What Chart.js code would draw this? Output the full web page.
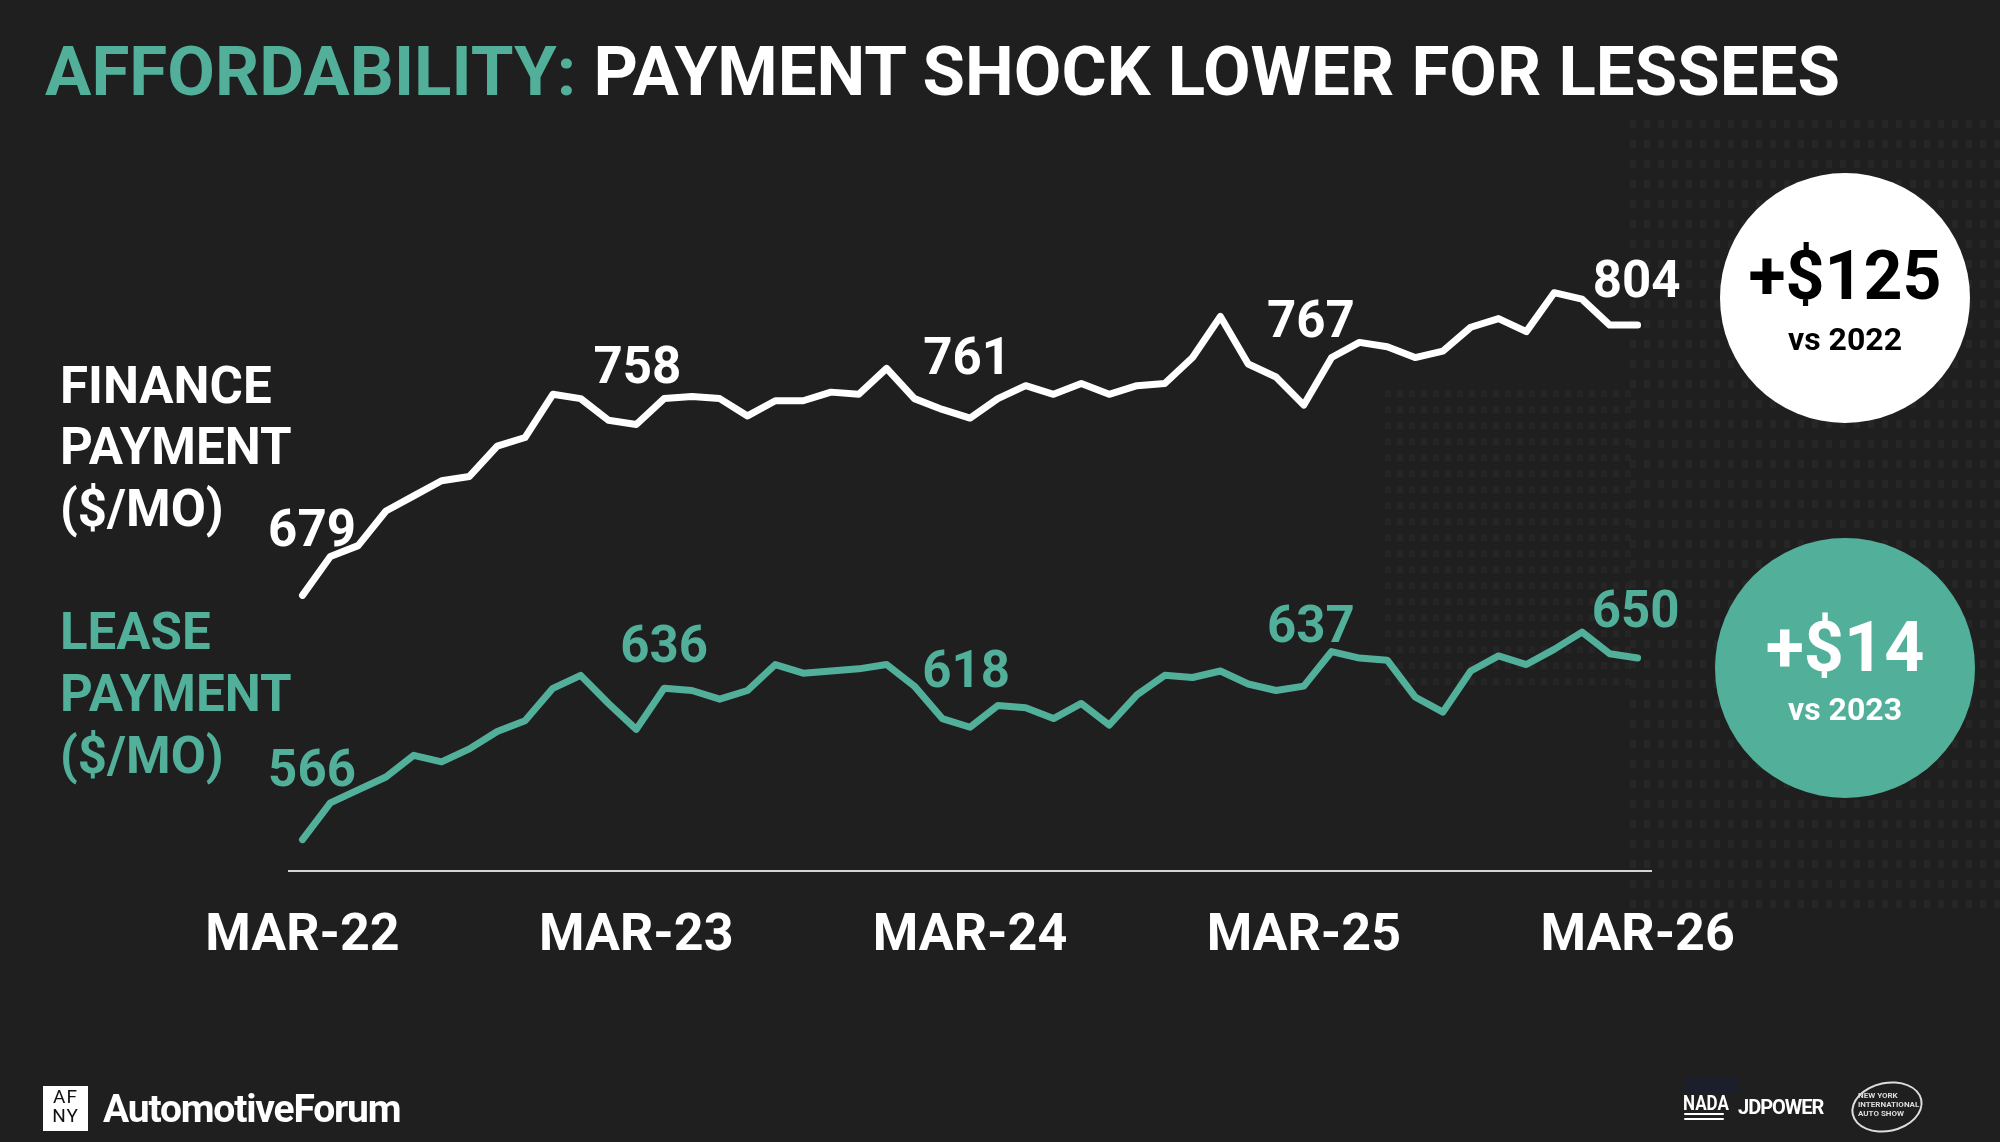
<!DOCTYPE html>
<html>
<head>
<meta charset="utf-8">
<script src="https://cdn.jsdelivr.net/npm/chart.js@4.4.1/dist/chart.umd.min.js"></script>
<style>
  html, body { margin:0; padding:0; background:#1f1f1f; }
  body { width:2000px; height:1142px; position:relative; overflow:hidden; font-family: Roboto, "Noto Sans", sans-serif; }
  .abs { position:absolute; }
  #bg1 { left:1630px; top:120px; width:370px; height:800px; opacity:0.03;
    background:
      repeating-linear-gradient(90deg, transparent 0 6px, #1f1f1f 6px 14px),
      repeating-linear-gradient(180deg, #fff 0 8px, transparent 8px 20px); }
  #bg2 { left:1385px; top:390px; width:250px; height:300px; opacity:0.022;
    background:
      repeating-linear-gradient(90deg, transparent 0 6px, #1f1f1f 6px 12px),
      repeating-linear-gradient(180deg, #fff 0 7px, transparent 7px 16px); }
  #title { left:45px; top:37.8px; font-size:68px; font-weight:700; line-height:68px; white-space:nowrap; transform-origin:0 0; color:#fff; }
  #title .hl { color:#52b09a; }
  .side { left:60px; font-size:51px; font-weight:700; line-height:61.7px; white-space:nowrap; }
  #chartWrap { left:0; top:0; width:2000px; height:1142px; }
  .circle { border-radius:50%; }
  .ctext { left:1695px; width:300px; text-align:center; font-weight:700; white-space:nowrap; }
</style>
</head>
<body>
<div id="bg1" class="abs"></div>
<div id="bg2" class="abs"></div>

<div id="title" class="abs"><span class="hl">AFFORDABILITY:</span> PAYMENT SHOCK LOWER FOR LESSEES</div>

<div class="abs side" style="top:354.7px;color:#ffffff;">FINANCE<br>PAYMENT<br>($/MO)</div>
<div class="abs side" style="top:601.3px;color:#52b09a;">LEASE<br>PAYMENT<br>($/MO)</div>

<div id="chartWrap" class="abs"><canvas id="c" width="2000" height="1142"></canvas></div>

<div class="abs circle" style="left:1720px;top:173px;width:250px;height:250px;background:#ffffff;"></div>
<div class="abs ctext" style="top:241.7px;font-size:68px;line-height:68px;color:#000;">+$125</div>
<div class="abs ctext" style="top:322.5px;font-size:32px;line-height:32px;color:#000;">vs 2022</div>

<div class="abs circle" style="left:1715px;top:538px;width:260px;height:260px;background:#52b09a;"></div>
<div class="abs ctext" style="top:612px;font-size:70px;line-height:70px;color:#fff;">+$14</div>
<div class="abs ctext" style="top:692.5px;font-size:32px;line-height:32px;color:#fff;">vs 2023</div>

<!-- footer -->
<div class="abs" style="left:43px;top:1086px;width:45px;height:45px;background:#fff;"></div>
<div class="abs" style="left:43px;top:1087px;width:45px;text-align:center;font-size:19px;line-height:19px;color:#111;letter-spacing:1px;">AF<br>NY</div>
<div class="abs" style="left:103px;top:1090px;font-size:39px;line-height:39px;font-weight:700;color:#fff;letter-spacing:-1.2px;white-space:nowrap;">AutomotiveForum</div>

<div class="abs" style="left:1685px;top:1078px;width:53px;height:15px;background:#1b1e2b;"></div>
<div class="abs" style="left:1683px;top:1093px;font-size:20px;line-height:20px;font-weight:700;color:#fff;transform:scaleX(0.85);transform-origin:0 0;">NADA</div>
<div class="abs" style="left:1684px;top:1113px;width:40px;height:2px;background:#fff;border-radius:2px;"></div>
<div class="abs" style="left:1684px;top:1118px;width:40px;height:2px;background:#fff;border-radius:2px;"></div>
<div class="abs" style="left:1738px;top:1097px;font-size:20px;line-height:20px;font-weight:700;color:#fff;letter-spacing:-1px;">JDPOWER</div>
<div class="abs" style="left:1851px;top:1082px;width:68px;height:46px;border:2px solid #ddd;border-radius:50%;transform:rotate(-12deg);"></div>
<div class="abs" style="left:1858px;top:1091px;font-size:8px;line-height:9px;font-weight:700;color:#ddd;white-space:nowrap;">NEW YORK<br>INTERNATIONAL<br>AUTO SHOW</div>

<script>
// ---- data ----
const months = [
  "MAR-22","APR-22","MAY-22","JUN-22","JUL-22","AUG-22","SEP-22","OCT-22","NOV-22","DEC-22","JAN-23","FEB-23",
  "MAR-23","APR-23","MAY-23","JUN-23","JUL-23","AUG-23","SEP-23","OCT-23","NOV-23","DEC-23","JAN-24","FEB-24",
  "MAR-24","APR-24","MAY-24","JUN-24","JUL-24","AUG-24","SEP-24","OCT-24","NOV-24","DEC-24","JAN-25","FEB-25",
  "MAR-25","APR-25","MAY-25","JUN-25","JUL-25","AUG-25","SEP-25","OCT-25","NOV-25","DEC-25","JAN-26","FEB-26",
  "MAR-26"
];
const tickLabels = ["MAR-22","MAR-23","MAR-24","MAR-25","MAR-26"];
const financePayment = [679, 697, 702, 718, 725, 732, 734, 748, 752, 772, 770, 760,
  758, 770, 771, 770, 762, 769, 769, 773, 772, 784, 770, 765,
  761, 770, 776, 772, 777, 772, 776, 777, 789, 808, 786, 780,
  767, 789, 796, 794, 789, 792, 803, 807, 801, 819, 816, 804,
  804];
const leasePayment = [566, 583, 589, 595, 605, 602, 608, 616, 621, 636, 642, 629,
  617, 636, 635, 631, 635, 647, 643, 644, 645, 647, 637, 622,
  618, 628, 627, 622, 629, 619, 633, 642, 641, 644, 638, 635,
  637, 653, 650, 649, 632, 625, 644, 651, 647, 654, 662, 652,
  650];
const financeLabelIdx = [0, 12, 24, 36, 48];
const leaseLabelIdx = [0, 13, 24, 36, 48];

const WHITE = "#ffffff";
const TEAL = "#52b09a";

// fit title width
(function(){
  const t = document.getElementById('title');
  const w = t.getBoundingClientRect().width;
  t.style.transform = 'scaleX(' + (1795 / w) + ')';
})();

const valueLabels = {
  id: 'valueLabels',
  afterDatasetsDraw(chart, args, opts) {
    const ctx = chart.ctx;
    opts.sets.forEach((s, di) => {
      const meta = chart.getDatasetMeta(di);
      const ds = chart.data.datasets[di];
      s.idx.forEach((i, k) => {
        const pt = meta.data[i];
        ctx.save();
        ctx.font = 'bold 51px Roboto';
        ctx.fillStyle = s.color;
        ctx.textAlign = 'center';
        ctx.textBaseline = 'alphabetic';
        ctx.fillText(String(Math.round(ds.data[i])), pt.x + s.dx[k], pt.y + s.dy[k] + 18);
        ctx.restore();
      });
    });
  }
};

new Chart(document.getElementById('c'), {
  type: 'line',
  data: {
    labels: months,
    datasets: [
      { label: 'Finance payment', data: financePayment, borderColor: WHITE, borderWidth: 7,
        pointRadius: 0, tension: 0, borderCapStyle: 'round', borderJoinStyle: 'round', fill: false },
      { label: 'Lease payment', data: leasePayment, borderColor: TEAL, borderWidth: 7,
        pointRadius: 0, tension: 0, borderCapStyle: 'round', borderJoinStyle: 'round', fill: false }
    ]
  },
  options: {
    responsive: false,
    animation: false,
    devicePixelRatio: 1,
    layout: { padding: { left: 288.6, right: 348.5, top: 160.8, bottom: 138.6 } },
    plugins: {
      legend: { display: false },
      tooltip: { enabled: false },
      valueLabels: {
        sets: [
          { idx: financeLabelIdx, color: WHITE, dx: [9.5, 1, -3, 7, -1], dy: [-67, -60, -62.5, -86, -46] },
          { idx: leaseLabelIdx, color: TEAL, dx: [9.5, 0, -4, 7, -2], dy: [-72, -44, -58, -62, -49] }
        ]
      }
    },
    scales: {
      x: {
        offset: true,
        grid: { display: false, drawTicks: false, tickLength: 0 },
        border: { display: true, color: '#d4d4d4', width: 2 },
        ticks: {
          autoSkip: false, maxRotation: 0, minRotation: 0,
          color: WHITE, padding: 35,
          font: { family: 'Roboto', weight: 'bold', size: 52, lineHeight: 1.2 },
          callback: (v, i) => tickLabels.includes(months[i]) ? months[i] : null
        }
      },
      y: { display: false, min: 551.5, max: 880 }
    }
  },
  plugins: [valueLabels]
});
</script>
</body>
</html>
